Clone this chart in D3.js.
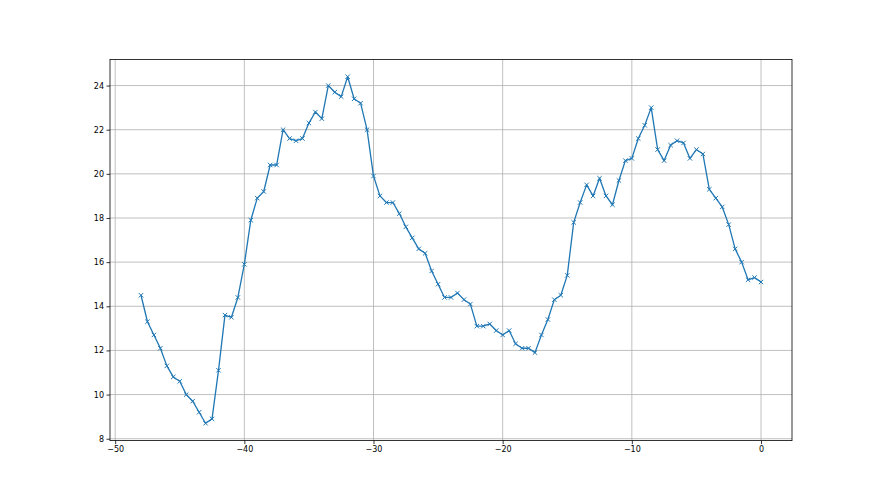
<!DOCTYPE html>
<html>
<head>
<meta charset="utf-8">
<script src="https://cdn.jsdelivr.net/npm/d3@7"></script>
<style>
  html, body { margin: 0; padding: 0; background: #fff; }
  svg { display: block; }
  .tick text { font-family: "DejaVu Sans", sans-serif; font-size: 8px; fill: #000; }
</style>
</head>
<body>
<svg id="chart" width="880" height="495"></svg>
<script>
const xValues = [
  -48, -47.5, -47, -46.5, -46, -45.5, -45, -44.5, -44, -43.5, -43, -42.5,
  -42, -41.5, -41, -40.5, -40, -39.5, -39, -38.5, -38, -37.5, -37, -36.5,
  -36, -35.5, -35, -34.5, -34, -33.5, -33, -32.5, -32, -31.5, -31, -30.5,
  -30, -29.5, -29, -28.5, -28, -27.5, -27, -26.5, -26, -25.5, -25, -24.5,
  -24, -23.5, -23, -22.5, -22, -21.5, -21, -20.5, -20, -19.5, -19, -18.5,
  -18, -17.5, -17, -16.5, -16, -15.5, -15, -14.5, -14, -13.5, -13, -12.5,
  -12, -11.5, -11, -10.5, -10, -9.5, -9, -8.5, -8, -7.5, -7, -6.5,
  -6, -5.5, -5, -4.5, -4, -3.5, -3, -2.5, -2, -1.5, -1, -0.5, 0
];
const yValues = [
  14.5, 13.3, 12.7, 12.1, 11.3, 10.8, 10.6, 10.0, 9.7, 9.2, 8.7, 8.9,
  11.1, 13.6, 13.5, 14.4, 15.9, 17.9, 18.9, 19.2, 20.4, 20.4, 22.0, 21.6,
  21.5, 21.6, 22.3, 22.8, 22.5, 24.0, 23.7, 23.5, 24.4, 23.4, 23.2, 22.0,
  19.9, 19.0, 18.7, 18.7, 18.2, 17.6, 17.1, 16.6, 16.4, 15.6, 15.0, 14.4,
  14.4, 14.6, 14.3, 14.1, 13.1, 13.1, 13.2, 12.9, 12.7, 12.9, 12.3, 12.1,
  12.1, 11.9, 12.7, 13.4, 14.3, 14.5, 15.4, 17.8, 18.7, 19.5, 19.0, 19.8,
  19.0, 18.6, 19.7, 20.6, 20.7, 21.6, 22.2, 23.0, 21.1, 20.6, 21.3, 21.5,
  21.4, 20.7, 21.1, 20.9, 19.3, 18.9, 18.5, 17.7, 16.6, 16.0, 15.2, 15.3, 15.1
];
const xTicks = [-50, -40, -30, -20, -10, 0];
const yTicks = [8, 10, 12, 14, 16, 18, 20, 22, 24];

(function () {
const W = 880, H = 495;
const pLeft = 110, pRight = 792, pTop = 59.4, pBottom = 440.6;

const data = xValues.map((xv, i) => ({ x: xv, y: yValues[i] }));

// matplotlib-style 5% margins
const xmin = d3.min(xValues), xmax = d3.max(xValues);
const ymin = d3.min(yValues), ymax = d3.max(yValues);
const xm = (xmax - xmin) * 0.05, ym = (ymax - ymin) * 0.05;

const x = d3.scaleLinear().domain([xmin - xm, xmax + xm]).range([pLeft, pRight]);
const y = d3.scaleLinear().domain([ymin - ym, ymax + ym]).range([pBottom, pTop]);

const svg = d3.select("#chart");
const fmt = d => d < 0 ? "\u2212" + Math.abs(d) : String(d);

// grid
const grid = svg.append("g");
grid.selectAll(".gx").data(xTicks).enter().append("line")
  .attr("x1", d => x(d)).attr("x2", d => x(d))
  .attr("y1", pTop).attr("y2", pBottom)
  .attr("stroke", "#b0b0b0").attr("stroke-width", 0.8);
grid.selectAll(".gy").data(yTicks).enter().append("line")
  .attr("x1", pLeft).attr("x2", pRight)
  .attr("y1", d => y(d)).attr("y2", d => y(d))
  .attr("stroke", "#b0b0b0").attr("stroke-width", 0.8);

// line
svg.append("path").datum(data)
  .attr("fill", "none").attr("stroke", "#1f77b4").attr("stroke-width", 1.3)
  .attr("stroke-linejoin", "round")
  .attr("d", d3.line().x(d => x(d.x)).y(d => y(d.y)));

// x markers
const ms = 2.2;
svg.append("g").selectAll("path").data(data).enter().append("path")
  .attr("d", d => {
    const cx = x(d.x), cy = y(d.y);
    return `M${cx - ms},${cy - ms}L${cx + ms},${cy + ms}M${cx - ms},${cy + ms}L${cx + ms},${cy - ms}`;
  })
  .attr("stroke", "#1f77b4").attr("stroke-width", 1).attr("fill", "none");

// axes
const xAxis = d3.axisBottom(x).tickValues(xTicks).tickFormat(fmt).tickSize(3.5).tickPadding(2.5);
const yAxis = d3.axisLeft(y).tickValues(yTicks).tickFormat(fmt).tickSize(3.5).tickPadding(2.5);

const gx = svg.append("g").attr("transform", `translate(0,${pBottom})`).call(xAxis);
const gy = svg.append("g").attr("transform", `translate(${pLeft},0)`).call(yAxis);
[gx, gy].forEach(g => {
  g.select(".domain").remove();
  g.selectAll(".tick line").attr("stroke", "#000").attr("stroke-width", 0.8);
});

// spines
svg.append("rect")
  .attr("x", pLeft).attr("y", pTop)
  .attr("width", pRight - pLeft).attr("height", pBottom - pTop)
  .attr("fill", "none").attr("stroke", "#000").attr("stroke-width", 0.8);
})();
</script>
</body>
</html>
